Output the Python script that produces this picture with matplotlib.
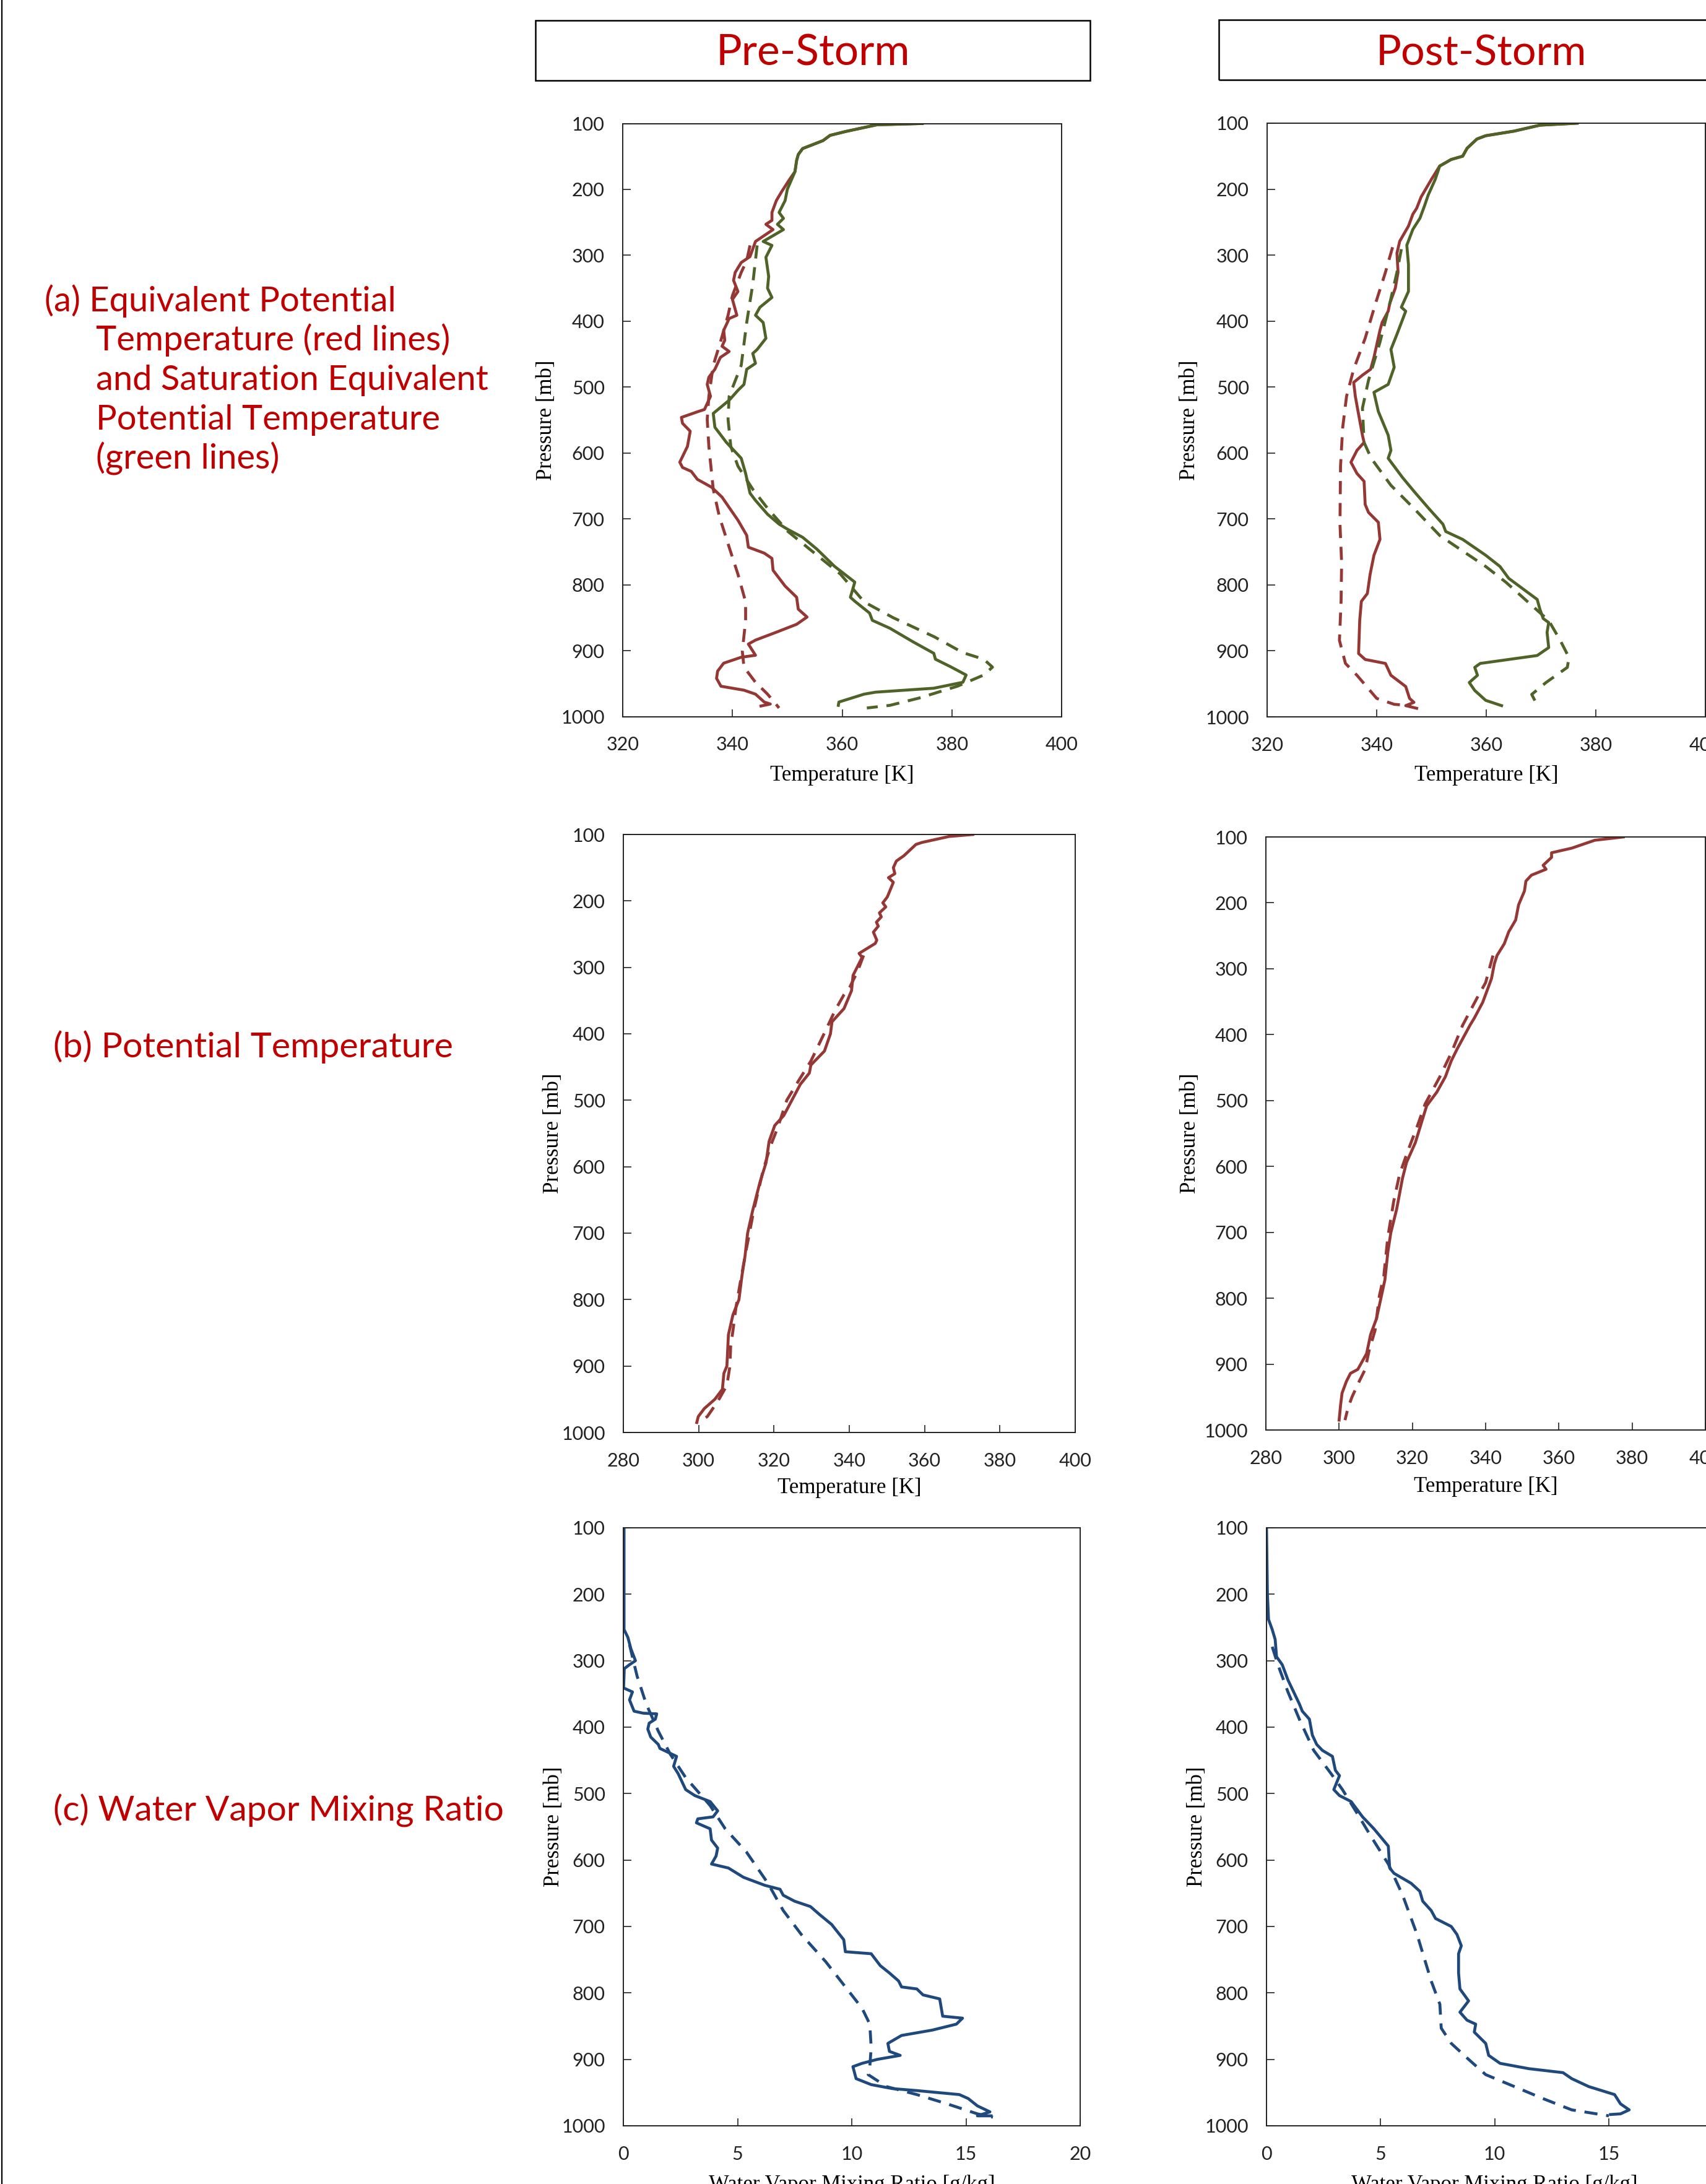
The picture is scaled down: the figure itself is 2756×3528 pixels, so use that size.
"""Pre-/post-storm sounding profiles: theta-e, theta and mixing ratio"""
import matplotlib; matplotlib.use('Agg')
import matplotlib.pyplot as plt
import numpy as np
from matplotlib.patches import Rectangle
from matplotlib.lines import Line2D

plt.rcParams['font.family'] = ['Lato', 'DejaVu Sans']

W, H, DPI = 2756, 3528, 100
RED, GREEN, BLUE, TXT = '#953735', '#4F6228', '#1F497D', '#C00000'
SERIF = ['Liberation Serif', 'DejaVu Serif']

# ---- (a) equivalent potential temperature, pressure [mb] vs K ----
pre_thetae = [(100, 374.6), (102, 366.3), (112, 360.7), (118, 357.8), (126, 356.5), (138, 352.8), (147, 352.0),
              (156, 351.7), (173, 351.4), (185, 350.4), (203, 349.0), (217, 348.0), (235, 347.2), (247, 347.2),
              (253, 346.1), (261, 347.4), (279, 344.2), (302, 343.2), (311, 341.6), (326, 340.5), (338, 340.2),
              (355, 341.0), (367, 340.0), (391, 340.8), (396, 339.4), (414, 338.4), (429, 338.6), (438, 338.1),
              (446, 339.4), (455, 337.8), (473, 336.8), (485, 335.7), (496, 335.4), (514, 336.0), (534, 334.9),
              (537, 333.8), (546, 330.7), (555, 330.9), (567, 332.3), (590, 331.8), (614, 330.4), (622, 330.9),
              (628, 332.5), (640, 333.6), (652, 336.2), (667, 338.1), (690, 340.0), (702, 341.0), (725, 342.6),
              (743, 342.9), (752, 345.8), (760, 347.2), (778, 347.4), (802, 349.6), (819, 351.7), (837, 352.0),
              (849, 353.6), (860, 351.7), (872, 348.0), (884, 344.2), (890, 342.9), (907, 344.2), (910, 341.6),
              (919, 338.4), (931, 337.3), (942, 337.1), (954, 337.9), (960, 342.1), (966, 344.2), (978, 345.8),
              (981, 346.9), (984, 345.2)]
pre_thetae_d = [(285, 343.2), (308, 342.6), (326, 341.6), (361, 340.0), (391, 339.2), (432, 337.8), (467, 336.5),
                (514, 335.7), (549, 335.4), (590, 335.7), (655, 336.5), (696, 337.6), (743, 339.4), (784, 341.0),
                (826, 342.4), (854, 342.4), (901, 341.8), (925, 342.1), (948, 344.2), (966, 346.4), (987, 348.5)]
pre_thetaes = [(100, 374.6), (102, 366.3), (112, 360.7), (118, 357.8), (126, 356.5), (138, 352.8), (147, 352.0),
               (156, 351.7), (173, 351.4), (200, 350.0), (217, 349.6), (235, 348.5), (244, 349.3), (253, 348.2),
               (261, 349.3), (279, 345.6), (285, 347.2), (303, 346.1), (332, 346.6), (350, 346.4), (364, 347.2),
               (379, 345.0), (391, 344.2), (402, 345.6), (426, 346.1), (443, 344.5), (449, 343.7), (464, 344.2),
               (473, 342.6), (496, 342.1), (505, 341.0), (520, 339.4), (540, 336.5), (561, 336.8), (584, 338.9),
               (608, 341.6), (631, 342.4), (661, 343.2), (672, 344.2), (693, 346.4), (708, 348.5), (716, 350.1),
               (728, 352.8), (746, 355.4), (772, 358.6), (796, 362.3), (819, 361.5), (825, 362.3), (843, 365.0),
               (854, 365.5), (866, 368.7), (887, 373.0), (904, 376.7), (913, 377.0), (925, 379.9), (937, 382.6),
               (948, 382.0), (957, 376.7), (963, 366.1), (966, 364.0), (978, 359.4), (983, 359.3)]
pre_thetaes_d = [(285, 344.5), (344, 343.7), (402, 342.6), (467, 341.6), (514, 339.4), (549, 339.2), (590, 339.7),
                 (620, 341.0), (655, 343.7), (684, 346.4), (719, 350.1), (755, 355.4), (784, 359.7), (826, 364.0),
                 (850, 369.3), (879, 376.8), (903, 382.0), (913, 385.8), (925, 387.4), (937, 385.8), (954, 381.0),
                 (972, 374.0), (983, 368.7), (987, 364.5)]

post_thetae = [(100, 376.6), (103, 369.8), (112, 365.1), (119, 359.9), (124, 358.3), (138, 356.5), (150, 355.7),
               (155, 353.6), (165, 351.5), (185, 350.0), (212, 348.1), (229, 347.3), (238, 346.6), (256, 345.8),
               (279, 344.2), (297, 343.7), (326, 343.9), (350, 343.4), (373, 342.4), (385, 342.1), (402, 341.0),
               (414, 340.6), (455, 339.5), (473, 338.9), (482, 337.4), (493, 335.8), (514, 336.1), (537, 336.6),
               (573, 337.4), (584, 337.7), (596, 336.4), (614, 335.3), (631, 336.4), (643, 337.7), (678, 337.9),
               (690, 338.5), (705, 340.3), (731, 340.6), (755, 339.5), (784, 338.8), (813, 338.3), (825, 337.2),
               (854, 336.9), (904, 336.7), (913, 337.9), (919, 341.6), (937, 342.6), (954, 345.3), (972, 346.0),
               (978, 346.8), (983, 345.3), (987, 347.3)]
post_thetae_d = [(288, 342.9), (326, 341.6), (373, 339.8), (426, 337.9), (473, 335.8), (514, 334.5), (561, 333.8),
                 (620, 333.4), (708, 333.3), (766, 333.6), (825, 333.5), (884, 333.2), (919, 334.3), (937, 336.4),
                 (972, 340.0), (981, 343.2), (983, 346.3)]
post_thetaes = [(100, 376.6), (103, 369.8), (112, 365.1), (119, 359.9), (124, 358.3), (138, 356.5), (150, 355.7),
                (155, 353.6), (165, 351.5), (185, 350.7), (209, 349.4), (226, 348.7), (244, 347.9), (261, 346.6),
                (285, 345.5), (314, 345.8), (355, 345.8), (379, 344.5), (385, 345.3), (420, 343.7), (443, 342.6),
                (470, 343.2), (496, 342.1), (508, 339.5), (537, 340.3), (573, 342.1), (596, 342.6), (608, 342.1),
                (637, 344.7), (658, 346.8), (684, 349.5), (708, 352.1), (719, 352.6), (731, 355.7), (755, 359.9),
                (772, 362.5), (790, 364.1), (822, 369.3), (837, 369.8), (851, 370.4), (857, 371.4), (872, 371.1),
                (895, 371.4), (907, 369.3), (919, 358.9), (925, 357.9), (937, 358.4), (948, 356.9), (960, 357.9),
                (975, 359.9), (983, 362.8)]
post_thetaes_d = [(291, 344.5), (326, 343.7), (373, 342.4), (432, 340.6), (490, 338.5), (532, 337.4), (584, 337.7),
                  (608, 339.0), (649, 342.6), (684, 346.8), (725, 351.5), (743, 354.7), (772, 359.9), (796, 363.6),
                  (831, 368.3), (854, 371.4), (884, 373.5), (910, 375.1), (925, 374.8), (948, 370.9), (966, 368.3),
                  (987, 369.6)]

# ---- (b) potential temperature ----
pre_theta = [(100, 372.8), (103, 366.5), (112, 359.3), (115, 357.7), (132, 354.5), (140, 352.5), (150, 351.7),
             (159, 352.1), (165, 350.4), (172, 351.7), (194, 350.1), (203, 348.9), (209, 349.7), (218, 348.0),
             (224, 348.5), (232, 347.2), (238, 347.7), (247, 346.4), (259, 347.3), (264, 346.9), (279, 342.6),
             (285, 343.4), (312, 341.0), (335, 340.6), (362, 338.6), (382, 335.4), (400, 335.0), (426, 333.4),
             (447, 329.8), (459, 329.4), (476, 327.0), (523, 322.6), (538, 320.2), (562, 318.7), (594, 317.9),
             (623, 316.3), (667, 314.3), (700, 313.0), (735, 312.3), (764, 311.5), (800, 310.7), (823, 309.1),
             (853, 307.9), (900, 307.5), (911, 306.7), (935, 306.3), (950, 304.3), (964, 301.5), (976, 299.9),
             (985, 299.5)]
pre_theta_d = [(282, 343.8), (306, 342.2), (329, 340.2), (341, 338.6), (365, 336.2), (394, 333.8), (441, 329.8),
               (470, 326.6), (500, 323.4), (541, 321.0), (570, 319.0), (606, 317.1), (664, 314.7), (723, 312.7),
               (776, 311.0), (812, 309.9), (847, 309.1), (870, 308.5), (900, 308.3), (929, 307.5), (953, 305.1),
               (976, 302.3), (985, 299.9)]
post_theta = [(100, 377.6), (105, 369.8), (117, 363.5), (124, 358.0), (131, 358.0), (143, 355.7), (149, 356.5),
              (158, 352.5), (167, 351.0), (182, 350.6), (203, 349.0), (226, 348.2), (244, 346.3), (262, 345.1),
              (280, 343.1), (292, 342.4), (315, 341.6), (339, 340.0), (351, 339.2), (375, 336.9), (386, 335.7),
              (422, 332.2), (440, 330.6), (464, 329.0), (487, 326.7), (508, 323.9), (535, 322.4), (564, 320.8),
              (594, 318.4), (618, 317.3), (665, 315.7), (701, 314.1), (730, 313.3), (772, 312.5), (790, 311.8),
              (831, 310.2), (855, 308.6), (884, 307.5), (896, 306.3), (908, 305.1), (914, 303.1), (926, 302.0),
              (944, 300.8), (962, 300.4), (985, 300.0)]
post_theta_d = [(280, 342.0), (321, 340.0), (345, 337.6), (386, 333.7), (428, 330.6), (464, 327.5), (505, 323.5),
                (541, 321.2), (576, 318.8), (612, 316.5), (653, 314.9), (707, 313.3), (766, 312.2), (796, 311.0),
                (849, 309.8), (879, 308.2), (908, 307.1), (926, 305.5), (950, 303.5), (967, 302.4), (985, 301.6)]

# ---- (c) water vapor mixing ratio [g/kg] ----
pre_q = [(100, 0.03), (253, 0.03), (265, 0.2), (282, 0.33), (300, 0.53), (306, 0.27), (312, 0.04), (341, 0.01),
         (347, 0.4), (359, 0.27), (376, 0.47), (379, 0.87), (380, 1.46), (388, 1.4), (394, 1.13), (403, 1.07),
         (415, 1.2), (426, 1.53), (432, 1.6), (444, 2.33), (459, 2.2), (470, 2.4), (494, 2.73), (503, 3.13),
         (512, 3.8), (526, 4.13), (535, 3.93), (538, 3.26), (544, 3.2), (553, 3.8), (570, 3.86), (582, 4.13),
         (594, 4.06), (606, 3.86), (612, 4.6), (626, 5.26), (638, 6.19), (644, 6.86), (653, 7.0), (662, 7.5),
         (670, 8.19), (682, 8.59), (697, 9.12), (720, 9.65), (738, 9.72), (741, 10.85), (759, 11.25), (770, 11.65),
         (782, 12.05), (791, 12.18), (794, 12.85), (803, 13.12), (809, 13.85), (835, 13.98), (838, 14.85),
         (847, 14.58), (856, 13.52), (864, 12.18), (876, 11.58), (888, 11.65), (894, 12.12), (900, 11.12),
         (906, 10.45), (911, 10.05), (929, 10.19), (938, 10.85), (944, 11.78), (947, 12.85), (950, 13.78),
         (953, 14.71), (959, 15.1), (970, 15.5), (979, 16.05), (985, 15.5), (985, 16.1)]
pre_q_d = [(276, 0.27), (323, 0.6), (365, 1.0), (406, 1.53), (441, 2.06), (476, 2.73), (518, 3.8), (553, 4.46),
           (588, 5.39), (635, 6.33), (676, 7.0), (712, 7.79), (753, 8.86), (794, 9.79), (823, 10.45), (847, 10.79),
           (882, 10.85), (911, 10.79), (923, 10.72), (941, 11.52), (953, 12.85), (967, 14.18), (982, 15.5),
           (987, 16.18)]
post_q = [(100, 0.0), (200, 0.04), (238, 0.09), (253, 0.25), (268, 0.38), (294, 0.44), (306, 0.69), (329, 0.94),
          (347, 1.19), (365, 1.44), (376, 1.57), (388, 1.88), (412, 2.01), (426, 2.2), (435, 2.45), (444, 2.89),
          (465, 3.02), (473, 3.2), (494, 2.95), (503, 3.2), (512, 3.71), (535, 4.21), (553, 4.71), (579, 5.34),
          (612, 5.4), (620, 5.59), (635, 6.34), (647, 6.72), (662, 6.85), (676, 7.22), (688, 7.41), (700, 8.1),
          (712, 8.35), (729, 8.54), (741, 8.42), (770, 8.42), (794, 8.48), (812, 8.86), (829, 8.48), (841, 8.79),
          (847, 9.17), (859, 9.11), (876, 9.61), (894, 9.74), (906, 10.24), (914, 11.5), (920, 13.0), (929, 13.38),
          (941, 14.13), (953, 15.26), (967, 15.52), (976, 15.9), (982, 15.52), (983, 15.08)]
post_q_d = [(279, 0.25), (306, 0.5), (347, 0.94), (388, 1.44), (435, 2.07), (470, 2.83), (494, 3.33), (529, 3.96),
            (565, 4.59), (606, 5.34), (653, 5.97), (712, 6.6), (782, 7.22), (817, 7.6), (853, 7.66), (876, 8.1),
            (900, 8.86), (923, 9.61), (941, 10.87), (959, 12.12), (976, 13.38), (985, 15.01)]

p_ticks = np.arange(100, 1001, 100)

fig = plt.figure(figsize=(W / DPI, H / DPI), dpi=DPI, facecolor='white')
R = fig.canvas.get_renderer()


def px_box(l, t, r, b):
    return [l / W, 1 - b / H, (r - l) / W, (b - t) / H]


def fit(t, width):
    w = t.get_window_extent(R).width
    t.set_fontsize(t.get_fontsize() * width / w)
    return t.get_fontsize()


def panel(box, curves, xlim, xstep, xlabel, xl_y, yl_x, xl_va='center'):
    ax = fig.add_axes(px_box(*box))
    for data, color, dashed in curves:
        p, v = np.array(data).T
        kw = dict(dashes=(4.5, 3)) if dashed else {}
        ax.plot(v, p, color=color, lw=3.4, solid_joinstyle='round', **kw)
    ax.set_xlim(*xlim); ax.set_ylim(1000, 100)
    ax.set_xticks(np.arange(xlim[0], xlim[1] + 0.1, xstep)); ax.set_yticks(p_ticks)
    ax.tick_params(direction='in', length=9, width=1.2, labelsize=22, colors='#222222')
    ax.tick_params(axis='x', pad=23); ax.tick_params(axis='y', pad=21)
    for s in ax.spines.values(): s.set_linewidth(1.4); s.set_color('#222222')
    ax.set_xlabel(xlabel, fontsize=25, family=SERIF, color='black')
    ax.xaxis.set_label_coords(0.5, xl_y); ax.xaxis.label.set_va(xl_va)
    ax.set_ylabel('Pressure [mb]', fontsize=25, family=SERIF, color='black')
    ax.yaxis.set_label_coords(yl_x, 0.5); ax.yaxis.label.set_va('center')
    return ax


panel((1006, 199.5, 1715, 1157.5),
      [(pre_thetae, RED, False), (pre_thetae_d, RED, True), (pre_thetaes, GREEN, False), (pre_thetaes_d, GREEN, True)],
      (320, 400), 20, 'Temperature [K]', -0.099, -0.174)
panel((2047, 199, 2755, 1158),
      [(post_thetae, RED, False), (post_thetae_d, RED, True), (post_thetaes, GREEN, False), (post_thetaes_d, GREEN, True)],
      (320, 400), 20, 'Temperature [K]', -0.099, -0.177)
panel((1007, 1348, 1737, 2314), [(pre_theta, RED, False), (pre_theta_d, RED, True)],
      (280, 400), 20, 'Temperature [K]', -0.093, -0.155)
panel((2045, 1352, 2755, 2310), [(post_theta, RED, False), (post_theta_d, RED, True)],
      (280, 400), 20, 'Temperature [K]', -0.096, -0.173)
panel((1007, 2468, 1745, 3434), [(pre_q, BLUE, False), (pre_q_d, BLUE, True)],
      (0, 20), 5, 'Water Vapor Mixing Ratio [g/kg]', -0.082, -0.153, 'top')
panel((2046, 2468, 2783, 3434), [(post_q, BLUE, False), (post_q_d, BLUE, True)],
      (0, 20), 5, 'Water Vapor Mixing Ratio [g/kg]', -0.082, -0.153, 'top')

# title boxes
for (l, t, r, b), label, cx, wd in [((865, 33, 1761, 130), 'Pre-Storm', 1313, 314),
                                    ((1969, 31.5, 2817, 128.5), 'Post-Storm', 2393, 340)]:
    fig.add_artist(Rectangle((l / W, 1 - b / H), (r - l) / W, (b - t) / H, transform=fig.transFigure,
                             fill=False, ec='black', lw=1.8))
    t_ = fig.text(cx / W, 1 - 106 / H, label, color=TXT, fontsize=48, ha='center', va='baseline')
    fit(t_, wd)

# row labels
lines_a = [('(a) Equivalent Potential', 72, 503), ('Temperature (red lines)', 155, 566),
           ('and Saturation Equivalent', 155, 630), ('Potential Temperature', 155, 694), ('(green lines)', 155, 757)]
ta = [fig.text(x / W, 1 - y / H, s, color=TXT, fontsize=36, ha='left', va='baseline') for s, x, y in lines_a]
fs = fit(ta[2], 634)
for t_ in ta: t_.set_fontsize(fs)
tb = fig.text(86 / W, 1 - 1708 / H, '(b) Potential Temperature', color=TXT, fontsize=36, va='baseline')
tc = fig.text(86 / W, 1 - 2942 / H, '(c) Water Vapor Mixing Ratio', color=TXT, fontsize=36, va='baseline')
fit(tb, 646); fit(tc, 728)

fig.add_artist(Line2D([3 / W, 3 / W], [0, 1], color='black', lw=1.6, transform=fig.transFigure))

fig.savefig('out.png', dpi=DPI, facecolor='white')
